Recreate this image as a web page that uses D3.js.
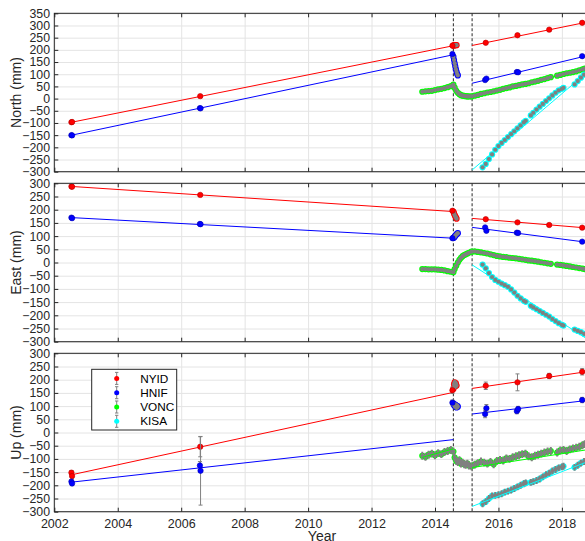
<!DOCTYPE html>
<html>
<head>
<meta charset="utf-8">
<script src="https://cdn.jsdelivr.net/npm/d3@7/dist/d3.min.js"></script>
<style>
  html, body { margin: 0; padding: 0; background: #fff; }
  svg { display: block; font-family: "Liberation Sans", Arial, Helvetica, sans-serif; }
</style>
</head>
<body>
<svg id="chart" width="585" height="541"></svg>
<script>
// ---- Axes settings -------------------------------------------------------
const componentLabels = ["North (mm)", "East (mm)", "Up (mm)"];
const yDomains = [[-300, 350], [-300, 300], [-300, 300]];
const yTickStep = 50;
const xDomain = [2002, 2018.76];
const xTickValues = [2002, 2004, 2006, 2008, 2010, 2012, 2014, 2016, 2018];
const eventLines = [2014.58, 2015.17];   // start / end of the 2014-15 eruption

// ---- Stations ------------------------------------------------------------
const stationNames = ["NYID", "HNIF", "VONC", "KISA"];
const stationColors = ["#ff0000", "#0000ff", "#00ff00", "#00ffff"];

// NYID campaign occupations
const nyidYears = [2002.54, 2002.56, 2006.60, 2014.55, 2015.60, 2016.60, 2017.60, 2018.64];
const nyidNorth = [-97, -96, 10, 217, 229, 260, 283, 311];
const nyidEast  = [288, 287, 256, 196, 164, 152, 142, 132];
const nyidUp    = [-152, -165, -54, 160, 177, 190, 214, 230];
const nyidUpErr = [8, 8, 38, 12, 14, 32, 10, 12];
// NYID daily solutions during the eruption
const nyidEruptYears = [2014.58, 2014.60, 2014.62, 2014.64, 2014.66, 2014.68];
const nyidEruptNorth = [218, 218, 219, 219, 220, 219];
const nyidEruptEast  = [193, 186, 180, 175, 170, 166];
const nyidEruptUp    = [165, 182, 190, 175, 186, 178];

// HNIF campaign occupations
const hnifYears = [2002.54, 2002.56, 2006.59, 2006.61, 2014.55, 2015.58, 2015.62, 2016.58, 2016.62, 2018.64];
const hnifNorth = [-150, -151, -39, -40, 183, 76, 82, 109, 108, 174];
const hnifEast  = [170, 168, 146, 145, 92, 133, 120, 113, 112, 79];
const hnifUp    = [-186, -193, -125, -145, 113, 70, 92, 81, 89, 123];
const hnifUpErr = [8, 8, 15, 130, 10, 14, 14, 10, 10, 10];
// HNIF daily solutions during the eruption
const hnifEruptYears = [2014.58, 2014.60, 2014.62, 2014.64, 2014.66, 2014.68, 2014.70, 2014.72];
const hnifEruptNorth = [172, 158, 145, 132, 120, 110, 101, 95];
const hnifEruptEast  = [93, 95, 98, 101, 104, 107, 109, 111];
const hnifEruptUp    = [110, 104, 100, 106, 97, 95, 101, 98];

// VONC continuous station
const voncYears = [2013.60, 2013.70, 2013.80, 2013.90, 2014.00, 2014.10, 2014.20, 2014.30, 2014.40, 2014.50, 2014.58,
  2014.62, 2014.67, 2014.72, 2014.77, 2014.82, 2014.87, 2014.92, 2014.97, 2015.02, 2015.07,
  2015.15, 2015.25, 2015.35, 2015.45, 2015.55, 2015.65, 2015.75, 2015.85, 2015.95, 2016.05,
  2016.15, 2016.25, 2016.35, 2016.45, 2016.55, 2016.65, 2016.75, 2016.85, 2016.95, 2017.05,
  2017.15, 2017.25, 2017.35, 2017.45, 2017.55, 2017.65, 2017.85, 2017.95, 2018.05, 2018.15,
  2018.25, 2018.35, 2018.45, 2018.55, 2018.65, 2018.72];
const voncNorth = [28, 30, 31, 32, 35, 38, 40, 43, 47, 51, 57,
  45, 32, 24, 18, 14, 12, 11, 10, 9, 9,
  9, 12, 15, 19, 22, 25, 27, 30, 33, 36,
  40, 43, 46, 50, 52, 55, 58, 60, 63, 67,
  70, 73, 77, 80, 84, 88, 94, 97, 101, 104,
  106, 109, 112, 116, 120, 123];
const voncEast = [-25, -25, -26, -26, -26, -27, -28, -30, -33, -35, -37,
  -25, -12, 0, 10, 18, 24, 28, 31, 34, 37,
  41, 42, 40, 38, 36, 34, 31, 28, 25, 23,
  21, 20, 18, 17, 16, 14, 12, 10, 8, 7,
  5, 3, 1, -1, -3, -5, -8, -9, -11, -13,
  -15, -17, -19, -21, -23, -25];
const voncUp = [-88, -92, -84, -80, -86, -78, -82, -74, -70, -66, -72,
  -95, -108, -112, -105, -118, -114, -120, -122, -118, -125,
  -128, -122, -116, -110, -114, -118, -112, -120, -108, -104,
  -106, -98, -100, -94, -90, -86, -82, -80, -90, -94,
  -88, -84, -80, -76, -72, -70, -76, -68, -66, -70,
  -64, -60, -58, -54, -48, -44];
const voncUpErr = 15;

// KISA continuous station
const kisaYears = [2015.50, 2015.60, 2015.70, 2015.80, 2015.90, 2016.00, 2016.10, 2016.20, 2016.30, 2016.40,
  2016.50, 2016.60, 2016.70, 2016.80, 2016.86, 2017.02, 2017.10, 2017.20, 2017.30, 2017.40,
  2017.50, 2017.60, 2017.70, 2017.80, 2017.90, 2018.00, 2018.05, 2018.40, 2018.50, 2018.60, 2018.70];
const kisaNorth = [-282, -268, -248, -229, -210, -195, -182, -170, -158, -146,
  -134, -122, -110, -98, -91, -69, -58, -45, -33, -22,
  -10, 1, 13, 24, 34, 40, 44, 58, 72, 86, 98];
const kisaEast = [-8, -22, -40, -55, -66, -73, -80, -86, -92, -102,
  -114, -126, -136, -145, -149, -164, -170, -177, -184, -191,
  -198, -205, -214, -222, -230, -236, -239, -254, -259, -264, -270];
const kisaUp = [-270, -262, -250, -240, -238, -236, -232, -226, -222, -218,
  -212, -206, -200, -194, -191, -189, -186, -182, -176, -168,
  -160, -154, -146, -140, -134, -130, -128, -132, -124, -116, -110];
const kisaUpErr = 13;

// Linear fits: [startYear, startValue, endYear, endValue] per interval
const nyidFitNorth = [[2002.55, -97, 2014.58, 217], [2015.17, 218, 2018.76, 313]];
const nyidFitEast  = [[2002.55, 288, 2014.58, 193], [2015.17, 167, 2018.76, 131]];
const nyidFitUp    = [[2002.55, -160, 2014.58, 152], [2015.17, 167, 2018.76, 230]];
const hnifFitNorth = [[2002.55, -150, 2014.58, 180], [2015.17, 63, 2018.76, 175]];
const hnifFitEast  = [[2002.55, 170, 2014.58, 92], [2015.17, 133, 2018.76, 77]];
const hnifFitUp    = [[2002.55, -188, 2014.58, -27], [2015.17, 70, 2018.76, 121]];
const voncFitNorth = [[2013.60, 28, 2014.58, 55], [2015.17, 8, 2018.76, 122]];
const voncFitEast  = [[2013.60, -25, 2014.58, -36], [2015.17, 41, 2018.76, -25]];
const voncFitUp    = [[2013.60, -94, 2014.58, -62], [2015.17, -133, 2018.76, -66]];
const kisaFitNorth = [[2015.17, -293, 2018.76, 104]];
const kisaFitEast  = [[2015.17, -9, 2018.76, -287]];
const kisaFitUp    = [[2015.17, -280, 2018.76, -113]];

// ---- Assemble per-station drawing sets ----------------------------------
const campaignSets = [
  { years: nyidYears, comps: [nyidNorth, nyidEast, nyidUp], upErr: nyidUpErr, color: stationColors[0] },
  { years: hnifYears, comps: [hnifNorth, hnifEast, hnifUp], upErr: hnifUpErr, color: stationColors[1] }
];
const denseSets = [
  { years: voncYears, comps: [voncNorth, voncEast, voncUp], upErr: voncUpErr, color: stationColors[2] },
  { years: kisaYears, comps: [kisaNorth, kisaEast, kisaUp], upErr: kisaUpErr, color: stationColors[3] },
  { years: nyidEruptYears, comps: [nyidEruptNorth, nyidEruptEast, nyidEruptUp], upErr: 10, color: stationColors[0] },
  { years: hnifEruptYears, comps: [hnifEruptNorth, hnifEruptEast, hnifEruptUp], upErr: 10, color: stationColors[1] }
];
const denseFits = [
  { fits: [voncFitNorth, voncFitEast, voncFitUp], color: stationColors[2] },
  { fits: [kisaFitNorth, kisaFitEast, kisaFitUp], color: stationColors[3] }
];
const campaignFits = [
  { fits: [nyidFitNorth, nyidFitEast, nyidFitUp], color: stationColors[0] },
  { fits: [hnifFitNorth, hnifFitEast, hnifFitUp], color: stationColors[1] }
];

// ---- Layout --------------------------------------------------------------
const plotLeft = 54.3, plotRight = 586;
const panelTops = [13.3, 183.3, 353.3];
const panelBottoms = [171.7, 341.7, 511.7];
const axisColor = "#262626";
const gridColor = "#e4e4e4";
const barColor = "#808080";

const svg = d3.select("#chart");
const x = d3.scaleLinear().domain(xDomain).range([plotLeft, plotRight]);

panelTops.forEach((top, i) => {
  const bottom = panelBottoms[i];
  const y = d3.scaleLinear().domain(yDomains[i]).range([bottom, top]);
  const yTicks = d3.range(yDomains[i][0], yDomains[i][1] + 1, yTickStep);
  const g = svg.append("g");

  // grid
  g.append("g")
    .attr("transform", `translate(${plotLeft},0)`)
    .call(d3.axisLeft(y).tickValues(yTicks).tickSize(-(plotRight - plotLeft)).tickFormat(""))
    .call(a => a.select(".domain").remove())
    .call(a => a.selectAll("line").attr("stroke", gridColor));
  g.append("g")
    .attr("transform", `translate(0,${bottom})`)
    .call(d3.axisBottom(x).tickValues(xTickValues).tickSize(-(bottom - top)).tickFormat(""))
    .call(a => a.select(".domain").remove())
    .call(a => a.selectAll("line").attr("stroke", gridColor));

  const clipId = "clip" + i;
  svg.append("clipPath").attr("id", clipId)
    .append("rect").attr("x", plotLeft).attr("y", top)
    .attr("width", plotRight - plotLeft).attr("height", bottom - top);
  const plot = g.append("g").attr("clip-path", `url(#${clipId})`);

  // eruption start / end markers
  plot.selectAll("line.event").data(eventLines).join("line")
    .attr("class", "event")
    .attr("x1", d => x(d)).attr("x2", d => x(d))
    .attr("y1", top).attr("y2", bottom)
    .attr("stroke", "#3a3a3a").attr("stroke-width", 1.1)
    .attr("stroke-dasharray", "3,2");

  const fitLine = (sel, fits, color) => {
    sel.append("g").selectAll("line").data(fits).join("line")
      .attr("x1", d => x(d[0])).attr("y1", d => y(d[1]))
      .attr("x2", d => x(d[2])).attr("y2", d => y(d[3]))
      .attr("stroke", color).attr("stroke-width", 1);
  };

  const fitsOnTop = i === 2;
  if (!fitsOnTop) denseFits.forEach(s => fitLine(plot, s.fits[i], s.color));

  // continuous / daily solutions: colored marker with grey error bar and core
  denseSets.forEach(s => {
    const pts = s.years.map((yr, k) => ({ yr, v: s.comps[i][k] }));
    const dg = plot.append("g");
    dg.selectAll("circle.rim").data(pts).join("circle")
      .attr("cx", d => x(d.yr)).attr("cy", d => y(d.v)).attr("r", 3.1)
      .attr("fill", s.color);
    if (i === 2) {
      dg.selectAll("line.err").data(pts).join("line")
        .attr("x1", d => x(d.yr)).attr("x2", d => x(d.yr))
        .attr("y1", d => y(d.v - s.upErr)).attr("y2", d => y(d.v + s.upErr))
        .attr("stroke", barColor).attr("stroke-width", 2);
    }
    dg.selectAll("circle.core").data(pts).join("circle")
      .attr("cx", d => x(d.yr)).attr("cy", d => y(d.v)).attr("r", 2.1)
      .attr("fill", barColor);
  });

  if (fitsOnTop) denseFits.forEach(s => fitLine(plot, s.fits[i], s.color));
  campaignFits.forEach(s => fitLine(plot, s.fits[i], s.color));

  // campaign occupations
  campaignSets.forEach(s => {
    const pts = s.years.map((yr, k) => ({ yr, v: s.comps[i][k], e: s.upErr[k] }));
    const cg = plot.append("g");
    if (i === 2) {
      const bars = cg.selectAll("g.bar").data(pts).join("g").attr("class", "bar");
      bars.append("line")
        .attr("x1", d => x(d.yr)).attr("x2", d => x(d.yr))
        .attr("y1", d => y(d.v - d.e)).attr("y2", d => y(d.v + d.e))
        .attr("stroke", barColor).attr("stroke-width", 1);
      [-1, 1].forEach(sgn => {
        bars.append("line")
          .attr("x1", d => x(d.yr) - 2).attr("x2", d => x(d.yr) + 2)
          .attr("y1", d => y(d.v + sgn * d.e)).attr("y2", d => y(d.v + sgn * d.e))
          .attr("stroke", barColor).attr("stroke-width", 1);
      });
    }
    cg.selectAll("circle").data(pts).join("circle")
      .attr("cx", d => x(d.yr)).attr("cy", d => y(d.v)).attr("r", 2.7)
      .attr("fill", s.color)
      .attr("stroke", d3.color(s.color).darker(0.9)).attr("stroke-width", 0.6);
  });

  // axes: inward ticks on all edges
  const yAxis = g.append("g")
    .attr("transform", `translate(${plotLeft},0)`)
    .call(d3.axisLeft(y).tickValues(yTicks).tickSize(-4).tickPadding(4.3));
  yAxis.select(".domain").remove();
  yAxis.selectAll("line").attr("stroke", axisColor);
  yAxis.selectAll("text").attr("fill", axisColor).attr("font-size", 12.3)
    .attr("font-family", "Liberation Sans, Arial, sans-serif");

  const xb = g.append("g").attr("transform", `translate(0,${bottom})`)
    .call(d3.axisBottom(x).tickValues(xTickValues).tickSize(-4).tickPadding(7.5)
      .tickFormat(i === 2 ? d3.format("d") : ""));
  xb.select(".domain").remove();
  xb.selectAll("line").attr("stroke", axisColor);
  xb.selectAll("text").attr("fill", axisColor).attr("font-size", 12.5)
    .attr("font-family", "Liberation Sans, Arial, sans-serif");
  const xt = g.append("g").attr("transform", `translate(0,${top})`)
    .call(d3.axisTop(x).tickValues(xTickValues).tickSize(-4).tickFormat(""));
  xt.select(".domain").remove();
  xt.selectAll("line").attr("stroke", axisColor);

  g.append("rect")
    .attr("x", plotLeft).attr("y", top)
    .attr("width", plotRight - plotLeft).attr("height", bottom - top)
    .attr("fill", "none").attr("stroke", axisColor).attr("stroke-width", 1);

  // component label
  g.append("text")
    .attr("transform", `translate(20.5,${(top + bottom) / 2}) rotate(-90)`)
    .attr("text-anchor", "middle")
    .attr("font-size", 14).attr("fill", axisColor)
    .text(componentLabels[i]);
});

// x-axis title
svg.append("text")
  .attr("x", 322).attr("y", 540.5)
  .attr("text-anchor", "middle")
  .attr("font-size", 14).attr("fill", axisColor)
  .text("Year");

// legend
const legend = svg.append("g");
legend.append("rect")
  .attr("x", 91.7).attr("y", 369.3).attr("width", 85).attr("height", 60.7)
  .attr("fill", "#fff").attr("stroke", axisColor).attr("stroke-width", 1);
const legendRows = legend.selectAll("g.row").data(stationNames).join("g")
  .attr("class", "row")
  .attr("transform", (d, k) => `translate(116.7,${378.4 + k * 14.3})`);
legendRows.append("line").attr("x1", 0).attr("x2", 0).attr("y1", -6).attr("y2", 6)
  .attr("stroke", barColor).attr("stroke-width", 1);
legendRows.append("line").attr("x1", -1.7).attr("x2", 1.7).attr("y1", -6).attr("y2", -6)
  .attr("stroke", barColor).attr("stroke-width", 1);
legendRows.append("line").attr("x1", -1.7).attr("x2", 1.7).attr("y1", 6).attr("y2", 6)
  .attr("stroke", barColor).attr("stroke-width", 1);
legendRows.append("circle").attr("r", 2.5)
  .attr("fill", (d, k) => stationColors[k]);
legendRows.append("text")
  .attr("x", 23.5).attr("dy", "0.35em")
  .attr("font-size", 11.8).attr("fill", "#000")
  .text(d => d);
</script>
</body>
</html>
